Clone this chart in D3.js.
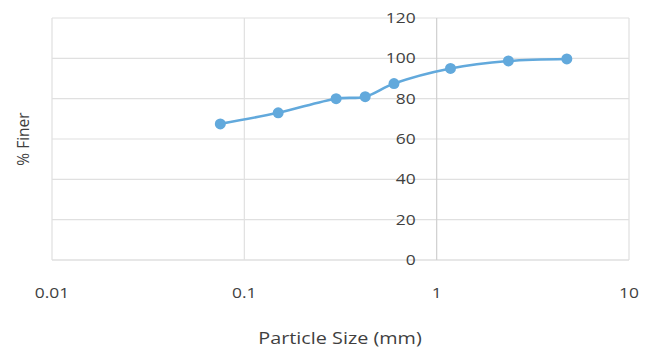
<html>
  <head>
    <style>
      body { margin: 0; background: #fff; }
      text { font-family: "Open Sans", "Noto Sans", sans-serif; fill: #3f3f3f; }
    </style>
    <script src="https://cdn.jsdelivr.net/npm/d3@7"></script>
  </head>
  <body>
    <svg id="container" height="350" width="649">
      <g id="body"></g>
    </svg>
    <script>
      // sieve analysis data
      const particleSize = [0.075, 0.15, 0.3, 0.425, 0.6, 1.18, 2.36, 4.75];
      const percentFiner = [67.5, 73, 80, 81, 87.5, 95, 98.7, 99.7];
      const xTicks = [0.01, 0.1, 1, 10];
      const yTicks = [0, 20, 40, 60, 80, 100, 120];

      const plotLeft = 52, plotRight = 629, plotTop = 18, plotBottom = 260;
      const stretch = 1.2; // the reference text is a bit wider than tall
      const body = d3.select("#body");

      const x = d3.scaleLog().domain([0.01, 10]).range([plotLeft, plotRight]);
      const y = d3.scaleLinear().domain([0, 120]).range([plotBottom, plotTop]);

      // horizontal gridlines
      body.selectAll(".hgrid")
        .data(yTicks)
        .enter()
        .append("line")
        .attr("x1", plotLeft).attr("x2", plotRight)
        .attr("y1", d => y(d)).attr("y2", d => y(d))
        .attr("stroke", d => d === 0 ? "#cfcfcf" : "#e0e0e0")
        .attr("stroke-width", 1.2);

      // vertical gridlines
      body.selectAll(".vgrid")
        .data(xTicks)
        .enter()
        .append("line")
        .attr("x1", d => x(d)).attr("x2", d => x(d))
        .attr("y1", plotTop).attr("y2", plotBottom)
        .attr("stroke", d => d === 1 ? "#cfcfcf" : "#e0e0e0")
        .attr("stroke-width", 1.2);

      // y labels sit next to the axis at x = 1
      body.selectAll(".ylab")
        .data(yTicks)
        .enter()
        .append("text")
        .attr("transform", d => `translate(${x(1) - 21},${y(d) + 5}) scale(${stretch},1)`)
        .attr("text-anchor", "end")
        .attr("font-size", 14.5)
        .text(d => d);

      body.selectAll(".xlab")
        .data(xTicks)
        .enter()
        .append("text")
        .attr("transform", d => `translate(${x(d)},298) scale(${stretch},1)`)
        .attr("text-anchor", "middle")
        .attr("font-size", 14.5)
        .text(d => d);

      body.append("text")
        .attr("transform", `translate(340,344) scale(${stretch},1)`)
        .attr("text-anchor", "middle")
        .attr("font-size", 16.5)
        .text("Particle Size (mm)");

      body.append("text")
        .attr("transform", `translate(29,${(plotTop + plotBottom) / 2}) rotate(-90)`)
        .attr("text-anchor", "middle")
        .attr("font-size", 15.5)
        .text("% Finer");

      const points = particleSize.map((d, i) => [d, percentFiner[i]]);

      const line = d3.line()
        .x(d => x(d[0]))
        .y(d => y(d[1]))
        .curve(d3.curveCatmullRom.alpha(0.5));

      body.append("path")
        .attr("d", line(points))
        .attr("fill", "none")
        .attr("stroke", "#62a9dc")
        .attr("stroke-width", 2.6);

      body.selectAll("circle")
        .data(points)
        .enter()
        .append("circle")
        .attr("cx", d => x(d[0]))
        .attr("cy", d => y(d[1]))
        .attr("r", 5.5)
        .attr("fill", "#62a9dc");
    </script>
  </body>
</html>
